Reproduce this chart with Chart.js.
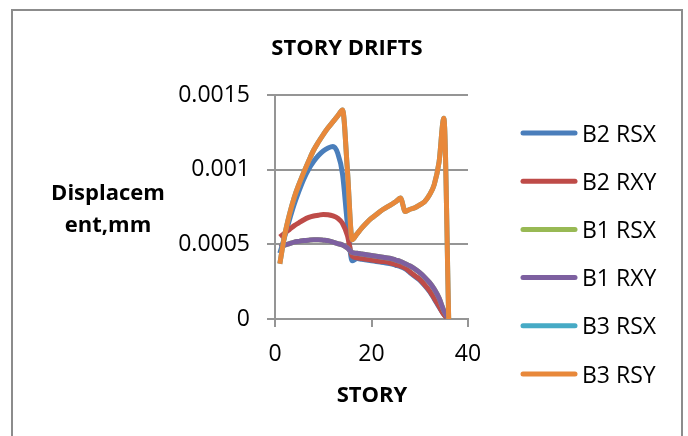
<!DOCTYPE html>
<html>
<head>
<meta charset="utf-8">
<script src="https://cdn.jsdelivr.net/npm/chart.js@4/dist/chart.umd.min.js"></script>
<style>
  html, body { margin: 0; padding: 0; background: #fff; }
  canvas { display: block; }
</style>
</head>
<body>
<canvas id="driftChart" width="688" height="436"></canvas>
<script>
const chartTitle = 'STORY DRIFTS';
const xTitle = 'STORY';
const yTitleLines = ['Displacem', 'ent,mm'];
const xTicks = [0, 20, 40];
const yTicks = [0, 0.0005, 0.001, 0.0015];

const stories = [1, 2, 3, 4, 5, 6, 7, 8, 9, 10, 11, 12, 13, 14, 15, 16, 17, 18,
  19, 20, 21, 22, 23, 24, 25, 26, 27, 28, 29, 30, 31, 32, 33, 34, 35, 36];

const seriesNames = ['B2 RSX', 'B2 RXY', 'B1 RSX', 'B1 RXY', 'B3 RSX', 'B3 RSY'];

const b2RSX = [0.00044, 0.00055, 0.000665, 0.00077, 0.00086, 0.00094, 0.001005, 0.001055, 0.001095, 0.001125,
  0.001145, 0.001155, 0.00111, 0.00097, 0.00064, 0.00039, 0.000405, 0.0004, 0.000395, 0.00039,
  0.000385, 0.00038, 0.000375, 0.00037, 0.00036, 0.00035, 0.000335, 0.00031, 0.000285, 0.00026,
  0.000225, 0.000185, 0.000135, 0.00008, 0.00003, 0];
const b2RXY = [0.00055, 0.000575, 0.0006, 0.000625, 0.000645, 0.000665, 0.00068, 0.00069, 0.000695, 0.0007,
  0.000698, 0.00069, 0.000675, 0.00064, 0.00056, 0.00042, 0.00041, 0.000405, 0.0004, 0.000395,
  0.00039, 0.000385, 0.000383, 0.000375, 0.000365, 0.000355, 0.00034, 0.000315, 0.00029, 0.000265,
  0.00023, 0.00019, 0.00014, 0.000085, 0.00003, 0];
const b1RSX = [0.00048, 0.000495, 0.000505, 0.000515, 0.00052, 0.000525, 0.000528, 0.00053, 0.00053, 0.000528,
  0.000525, 0.000515, 0.000505, 0.000495, 0.000475, 0.000445, 0.00044, 0.000435, 0.00043, 0.000425,
  0.00042, 0.000415, 0.00041, 0.000405, 0.000395, 0.000385, 0.00037, 0.000355, 0.000335, 0.00031,
  0.00028, 0.000245, 0.0002, 0.00014, 0.000055, 0];
const b1RXY = [0.00048, 0.000495, 0.000505, 0.000515, 0.00052, 0.000525, 0.000528, 0.00053, 0.00053, 0.000528,
  0.000525, 0.000515, 0.000505, 0.000495, 0.000475, 0.000445, 0.00044, 0.000435, 0.00043, 0.000425,
  0.00042, 0.000415, 0.00041, 0.000405, 0.000395, 0.000385, 0.00037, 0.000355, 0.000335, 0.00031,
  0.00028, 0.000245, 0.0002, 0.00014, 0.000055, 0];
const b3RSX = [0.00037, 0.00056, 0.0007, 0.000815, 0.000905, 0.000985, 0.00106, 0.00113, 0.001185, 0.001235,
  0.00128, 0.00132, 0.00136, 0.0014, 0.001, 0.00053, 0.00057, 0.00061, 0.000645, 0.000675,
  0.0007, 0.000725, 0.000745, 0.000765, 0.000785, 0.00081, 0.00072, 0.000735, 0.000745, 0.000765,
  0.000785, 0.00083, 0.0009, 0.00105, 0.001345, 0];
const b3RSY = [0.00037, 0.00056, 0.0007, 0.000815, 0.000905, 0.000985, 0.00106, 0.00113, 0.001185, 0.001235,
  0.00128, 0.00132, 0.00136, 0.0014, 0.001, 0.00053, 0.00057, 0.00061, 0.000645, 0.000675,
  0.0007, 0.000725, 0.000745, 0.000765, 0.000785, 0.00081, 0.00072, 0.000735, 0.000745, 0.000765,
  0.000785, 0.00083, 0.0009, 0.00105, 0.001345, 0];

const seriesValues = [b2RSX, b2RXY, b1RSX, b1RXY, b3RSX, b3RSY];
const seriesColors = ['#4a7ebb', '#be4b48', '#98b954', '#7d60a0', '#46aac5', '#e8883a'];

const gridColor = '#959595';
const font = '"Open Sans", sans-serif';

// titles, legend and outer frame, drawn by hand to sit where Excel puts them
const decor = {
  id: 'decor',
  afterDraw(chart) {
    const ctx = chart.ctx;
    ctx.save();
    ctx.strokeStyle = '#8c8c8c';
    ctx.lineWidth = 2;
    ctx.strokeRect(12, 10, 670, 450);

    ctx.fillStyle = '#000';
    ctx.textAlign = 'center';
    ctx.textBaseline = 'alphabetic';
    ctx.font = 'bold 22px ' + font;
    ctx.fillText(chartTitle, 347, 55);
    ctx.fillText(xTitle, 372, 402);
    yTitleLines.forEach((t, i) => ctx.fillText(t, 108, 200 + i * 32));

    ctx.textAlign = 'left';
    ctx.font = '23px ' + font;
    ctx.lineCap = 'round';
    chart.data.datasets.forEach((ds, i) => {
      const y = 133 + i * 48.2;
      ctx.strokeStyle = ds.borderColor;
      ctx.lineWidth = 5;
      ctx.beginPath();
      ctx.moveTo(523, y);
      ctx.lineTo(575, y);
      ctx.stroke();
      ctx.fillStyle = '#000';
      ctx.fillText(ds.label, 582, y + 8.5);
    });
    ctx.restore();
  }
};

const datasets = seriesNames.map((name, i) => ({
  label: name,
  data: stories.map((s, j) => ({ x: s, y: seriesValues[i][j] })),
  borderColor: seriesColors[i],
  backgroundColor: seriesColors[i],
  borderWidth: 5,
  pointRadius: 0,
  showLine: true,
  cubicInterpolationMode: 'monotone',
  order: seriesNames.length - i,
}));

new Chart(document.getElementById('driftChart'), {
  type: 'scatter',
  data: { datasets: datasets },
  options: {
    responsive: false,
    animation: false,
    devicePixelRatio: 1,
    layout: { padding: { left: 0, top: 95, right: 220, bottom: 0 } },
    plugins: {
      legend: { display: false },
      title: { display: false },
      tooltip: { enabled: false },
    },
    scales: {
      x: {
        type: 'linear',
        min: xTicks[0],
        max: xTicks[xTicks.length - 1],
        afterBuildTicks: scale => { scale.ticks = xTicks.map(v => ({ value: v })); },
        afterFit: scale => { scale.height = 117; },
        grid: { drawOnChartArea: false, color: gridColor, lineWidth: 2, tickLength: 8 },
        border: { color: gridColor, width: 2 },
        ticks: { color: '#000', font: { family: font, size: 23 }, padding: 14, maxRotation: 0 },
      },
      y: {
        min: yTicks[0],
        max: yTicks[yTicks.length - 1],
        afterBuildTicks: scale => { scale.ticks = yTicks.map(v => ({ value: v })); },
        afterFit: scale => { scale.width = 275; },
        grid: { color: gridColor, lineWidth: 2, tickLength: 8 },
        border: { color: gridColor, width: 2 },
        ticks: {
          color: '#000',
          font: { family: font, size: 23 },
          padding: 17,
          callback: v => String(v),
        },
      },
    },
  },
  plugins: [decor],
});
</script>
</body>
</html>
